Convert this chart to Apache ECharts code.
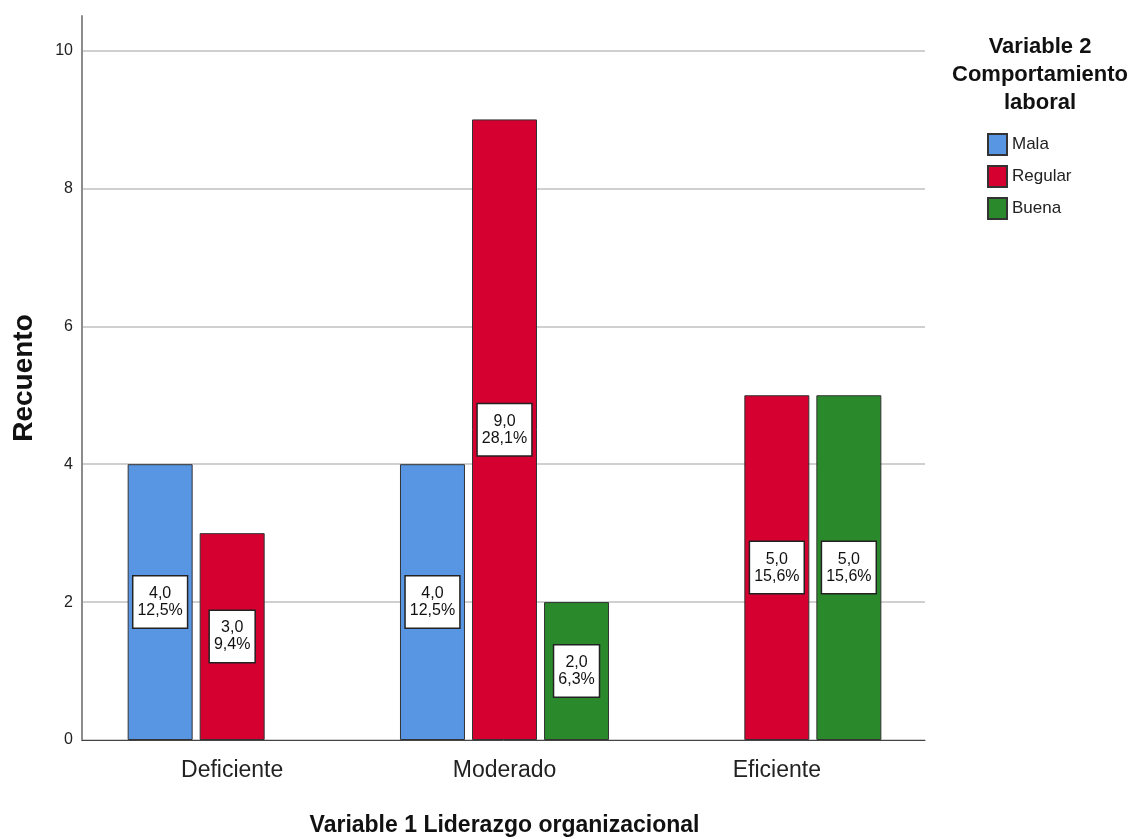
<!DOCTYPE html>
<html>
<head>
<meta charset="utf-8">
<title>Recuento por Liderazgo organizacional</title>
<script src="https://cdn.jsdelivr.net/npm/echarts@6/dist/echarts.min.js"></script>
<style>
  html, body { margin: 0; padding: 0; background: #fff; }
  #chart { width: 1129px; height: 839px; }
</style>
</head>
<body>
<div id="chart"></div>
<script>
// Categories of Variable 1 and counts per level of Variable 2
const categories = ['Deficiente', 'Moderado', 'Eficiente'];
const seriesNames = ['Mala', 'Regular', 'Buena'];
const mala = [4, 4, null];
const regular = [3, 9, 5];
const buena = [null, 2, 5];
const yTickStep = 2;
const yMax = 10.5;

const seriesColors = ['#5896e3', '#d5002f', '#2a8a2b'];
const FONT = "'Liberation Sans', Arial, sans-serif";

const allValues = [mala, regular, buena];
const total = allValues.flat().reduce((s, v) => s + (v == null ? 0 : v), 0);

function fmt(v) {
  return v.toFixed(1).replace('.', ',');
}

const series = allValues.map((vals, i) => ({
  name: seriesNames[i],
  type: 'bar',
  xAxisIndex: 1,
  yAxisIndex: 1,
  barWidth: 65,
  barGap: '10.8%',
  data: vals.map(v => (v == null ? '-' : v)),
  itemStyle: { color: seriesColors[i], borderColor: '#333', borderWidth: 1 },
  label: {
    show: true,
    position: 'inside',
    formatter: p => fmt(p.value) + '\n' + fmt(p.value / total * 100) + '%',
    color: '#111',
    fontFamily: FONT,
    fontSize: 16,
    lineHeight: 17,
    backgroundColor: '#fff',
    borderColor: '#222',
    borderWidth: 1.5,
    padding: [9, 4, 8, 4]
  }
}));

const chart = echarts.init(document.getElementById('chart'));
chart.setOption({
  animation: false,
  backgroundColor: '#fff',
  title: {
    text: 'Variable 2\nComportamiento\nlaboral',
    left: 1035,
    top: 28,
    textAlign: 'center',
    textStyle: { fontFamily: FONT, fontSize: 22, fontWeight: 'bold', lineHeight: 28, color: '#111' }
  },
  legend: {
    data: seriesNames,
    orient: 'vertical',
    left: 987,
    top: 133,
    padding: 0,
    icon: 'rect',
    itemWidth: 19,
    itemHeight: 21,
    itemGap: 9,
    textStyle: { fontFamily: FONT, fontSize: 17, color: '#222' }
  },
  grid: [
    { left: 82, right: 204, top: 16, bottom: 99, containLabel: false, outerBoundsMode: 'none' },
    { left: 96, right: 216, top: 16, bottom: 99, containLabel: false, outerBoundsMode: 'none' }
  ],
  xAxis: [
    {
      gridIndex: 0,
      type: 'category',
      data: categories,
      axisLine: { show: true, lineStyle: { color: '#444', width: 1 } },
      axisTick: { show: false },
      axisLabel: { show: false }
    },
    {
      gridIndex: 1,
      type: 'category',
      data: categories,
      axisLine: { show: false },
      axisTick: { show: false },
      axisLabel: { fontFamily: FONT, fontSize: 23, color: '#222', margin: 19 },
      name: 'Variable 1 Liderazgo organizacional',
      nameLocation: 'middle',
      nameGap: 74,
      nameTextStyle: { fontFamily: FONT, fontSize: 23, fontWeight: 'bold', color: '#111' }
    }
  ],
  yAxis: [
    {
      gridIndex: 0,
      type: 'value',
      min: 0,
      max: yMax,
      interval: yTickStep,
      axisLine: { show: true, lineStyle: { color: '#8c8c8c', width: 2 } },
      axisTick: { show: false },
      axisLabel: { fontFamily: FONT, fontSize: 16, color: '#222', margin: 9, showMaxLabel: false },
      splitLine: { show: true, showMaxLine: false, lineStyle: { color: '#d0d0d0', width: 2 } },
      name: 'Recuento',
      nameLocation: 'middle',
      nameGap: 44,
      nameTextStyle: { fontFamily: FONT, fontSize: 28, fontWeight: 'bold', color: '#111' }
    },
    {
      gridIndex: 1,
      type: 'value',
      min: 0,
      max: yMax,
      interval: yTickStep,
      show: false,
      splitLine: { show: false }
    }
  ],
  series: series
});
</script>
</body>
</html>
